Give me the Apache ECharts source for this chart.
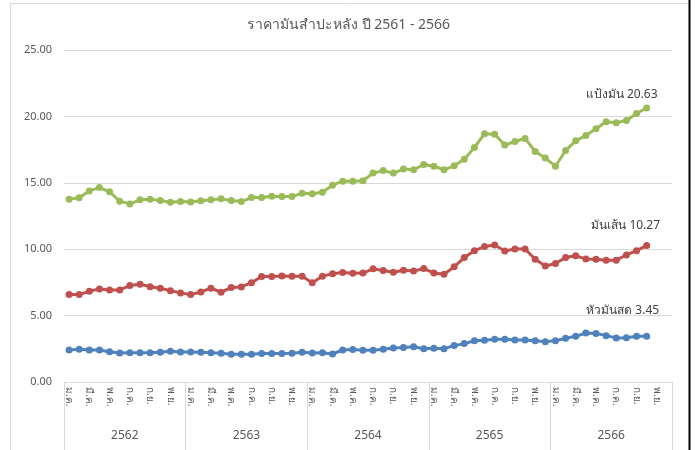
<!DOCTYPE html>
<html><head><meta charset="utf-8">
<script src="https://cdn.jsdelivr.net/npm/echarts@6/dist/echarts.min.js"></script>
<style>html,body{margin:0;padding:0;background:#fff}#c{width:697px;height:450px}</style>
</head><body><div id="c"></div>
<script>
const years = ['2562','2563','2564','2565','2566'];
const months = ['ม.ค.','ก.พ.','มี.ค.','เม.ย.','พ.ค.','มิ.ย.','ก.ค.','ส.ค.','ก.ย.','ต.ค.','พ.ย.','ธ.ค.'];
const yTicks = [0,5,10,15,20,25];
const starchName = 'แป้งมัน';
const chipName = 'มันเส้น';
const rootName = 'หัวมันสด';
const starch = [13.77,13.87,14.39,14.64,14.32,13.62,13.41,13.72,13.77,13.66,13.54,13.59,
 13.56,13.64,13.72,13.79,13.66,13.59,13.89,13.89,13.99,13.96,13.96,14.22,
 14.17,14.29,14.82,15.12,15.12,15.15,15.73,15.92,15.73,16.03,15.98,16.38,
 16.25,15.98,16.28,16.78,17.66,18.69,18.66,17.84,18.11,18.34,17.36,16.86,
 16.25,17.43,18.16,18.56,19.07,19.59,19.52,19.69,20.22,20.63];
const chip = [6.58,6.58,6.83,7.01,6.93,6.93,7.26,7.36,7.18,7.06,6.88,6.71,
 6.58,6.78,7.06,6.76,7.11,7.16,7.48,7.94,7.94,7.99,7.96,7.96,
 7.48,7.96,8.16,8.24,8.19,8.20,8.52,8.39,8.27,8.42,8.36,8.54,
 8.21,8.11,8.67,9.37,9.89,10.20,10.32,9.87,10.02,10.02,9.24,8.74,
 8.92,9.37,9.50,9.27,9.24,9.17,9.17,9.57,9.89,10.27];
const root = [2.41,2.46,2.41,2.41,2.28,2.19,2.21,2.21,2.21,2.24,2.31,2.26,
 2.26,2.24,2.21,2.16,2.09,2.09,2.09,2.14,2.14,2.14,2.16,2.24,
 2.19,2.21,2.11,2.41,2.44,2.40,2.39,2.46,2.56,2.59,2.66,2.51,
 2.54,2.51,2.74,2.89,3.11,3.14,3.22,3.22,3.17,3.17,3.11,3.04,
 3.11,3.29,3.44,3.69,3.66,3.49,3.32,3.34,3.44,3.45];

const cats = [];
years.forEach(y => months.forEach(m => cats.push(m)));

const FONT = '"Noto Sans", "DejaVu Sans", sans-serif';
function mk(name, arr, color, dist, dx, dy) {
  return {
    name, type: 'line', xAxisIndex: 0, yAxisIndex: 0,
    symbol: 'circle', symbolSize: 7, showSymbol: true, showAllSymbol: true,
    lineStyle: {width: 3, color}, itemStyle: {color},
    emphasis: {disabled: true},
    labelLayout: {hideOverlap: false, dx: dx, dy: dy},
    data: arr.map((v, i) => i === arr.length - 1 ? {
      value: v,
      label: {show: true, position: 'top', distance: dist,
        formatter: name + ' ' + v.toFixed(2), color: '#404040', fontSize: 12, fontFamily: FONT}
    } : v)
  };
}

const chart = echarts.init(document.getElementById('c'), null, {renderer: 'canvas'});
chart.setOption({
  animation: false,
  backgroundColor: '#fff',
  title: {text: 'ราคามันสำปะหลัง ปี 2561 - 2566', left: 'center', top: 13,
    textStyle: {fontSize: 14, fontWeight: 'normal', color: '#595959', fontFamily: FONT}},
  grid: {left: 64, right: 25, top: 50, bottom: 68, containLabel: false},
  xAxis: [{
    type: 'category', data: cats, position: 'bottom', boundaryGap: true,
    axisLine: {show: true, lineStyle: {color: '#d9d9d9'}},
    axisTick: {show: false},
    axisLabel: {interval: 1, rotate: -90, color: '#595959', fontSize: 10, margin: 5, fontFamily: FONT}
  }, {
    type: 'category', data: years, position: 'bottom', boundaryGap: true,
    axisLine: {show: false},
    axisTick: {show: true, length: 68, lineStyle: {color: '#d9d9d9'}},
    axisLabel: {color: '#595959', fontSize: 12, margin: 48, fontFamily: FONT}
  }],
  yAxis: {
    type: 'value', min: yTicks[0], max: yTicks[yTicks.length - 1], interval: 5,
    axisLine: {show: false}, axisTick: {show: false},
    splitLine: {lineStyle: {color: '#d9d9d9'}},
    axisLabel: {formatter: v => v.toFixed(2), color: '#595959', fontSize: 11, margin: 12, fontFamily: FONT}
  },
  graphic: [
    {type: 'line', shape: {x1: 10, y1: 3.5, x2: 689, y2: 3.5}, style: {stroke: '#d9d9d9', lineWidth: 1}},
    {type: 'line', shape: {x1: 10.5, y1: 3, x2: 10.5, y2: 450}, style: {stroke: '#d9d9d9', lineWidth: 1}},
    {type: 'line', shape: {x1: 689.5, y1: 0, x2: 689.5, y2: 450}, style: {stroke: '#000', lineWidth: 2}}
  ],
  series: [
    mk(starchName, starch, '#9bbb59', 6, -25, 2),
    mk(chipName, chip, '#c0504d', 12, -21, 1),
    mk(rootName, root, '#4f81bd', 17, -24, 1)
  ]
});
</script></body></html>
